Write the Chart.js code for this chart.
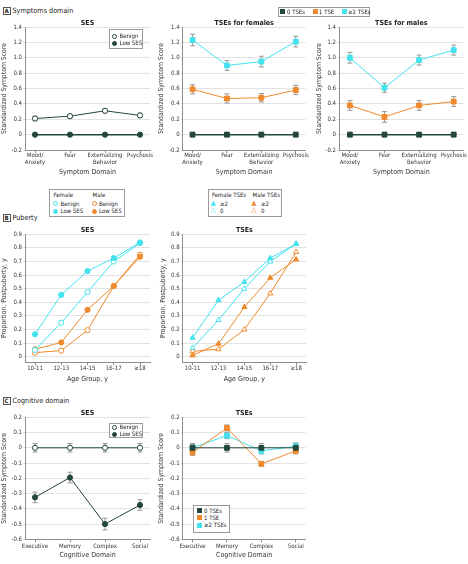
<!DOCTYPE html>
<html><head><meta charset="utf-8">
<script src="https://cdn.jsdelivr.net/npm/chart.js@4.4.1/dist/chart.umd.min.js"></script>
<style>
html,body{margin:0;padding:0;background:#fff;}
body{position:relative;width:468px;height:564px;overflow:hidden;font-family:"Liberation Sans Narrow","DejaVu Sans Condensed","Arial Narrow",sans-serif;color:#222;}
canvas{position:absolute;}
.t{position:absolute;white-space:nowrap;line-height:1;}
.box{position:absolute;border:1px solid #9a9a9a;box-sizing:border-box;background:#fff;}
.sym{position:absolute;box-sizing:border-box;}
.plab{position:absolute;width:8px;height:8px;border:1px solid #555;box-sizing:border-box;font-size:6px;font-weight:bold;text-align:center;line-height:6px;}
</style></head><body>
<script>
// ---------- DATA ----------
const symptomCats = [['Mood/','Anxiety'], 'Fear', ['Externalizing','Behavior'], 'Psychosis'];
const symptomYTicks = [-0.2, 0, 0.2, 0.4, 0.6, 0.8, 1.0, 1.2, 1.4];

const sesSymBenign    = [0.21, 0.24, 0.31, 0.25];
const sesSymBenignErr = [0.03, 0.025, 0.025, 0.03];
const sesSymLow       = [0, 0, 0, 0];
const sesSymLowErr    = [0.012, 0.012, 0.012, 0.012];

const femTse0    = [0, 0, 0, 0];
const femTse0Err = [0.03, 0.03, 0.03, 0.03];
const femTse1    = [0.59, 0.47, 0.48, 0.58];
const femTse1Err = [0.06, 0.06, 0.055, 0.06];
const femTse2    = [1.23, 0.90, 0.95, 1.21];
const femTse2Err = [0.075, 0.065, 0.07, 0.07];

const maleTse0    = [0, 0, 0, 0];
const maleTse0Err = [0.03, 0.03, 0.03, 0.03];
const maleTse1    = [0.38, 0.23, 0.38, 0.43];
const maleTse1Err = [0.065, 0.07, 0.065, 0.065];
const maleTse2    = [1.00, 0.61, 0.97, 1.10];
const maleTse2Err = [0.07, 0.06, 0.065, 0.065];

const ageCats = ['10-11', '12-13', '14-15', '16-17', '\u226518'];
const pubYTicks = [0, 0.1, 0.2, 0.3, 0.4, 0.5, 0.6, 0.7, 0.8, 0.9];
const pubSesFemBenign  = [0.05, 0.25, 0.475, 0.70, 0.835];
const pubSesFemLow     = [0.165, 0.455, 0.63, 0.725, 0.84];
const pubSesMaleBenign = [0.03, 0.045, 0.195, 0.52, 0.75];
const pubSesMaleLow    = [0.055, 0.105, 0.345, 0.52, 0.735];
const pubTseFem2  = [0.14, 0.415, 0.55, 0.725, 0.83];
const pubTseFem0  = [0.065, 0.27, 0.50, 0.70, 0.83];
const pubTseMale2 = [0.01, 0.095, 0.365, 0.58, 0.715];
const pubTseMale0 = [0.04, 0.055, 0.20, 0.465, 0.77];

const cogCats = ['Executive', 'Memory', 'Complex', 'Social'];
const cogYTicks = [-0.6, -0.5, -0.4, -0.3, -0.2, -0.1, 0, 0.1, 0.2];
const cogSesBenign    = [0, 0, 0, 0];
const cogSesBenignErr = [0.028, 0.028, 0.028, 0.028];
const cogSesLow       = [-0.325, -0.195, -0.50, -0.375];
const cogSesLowErr    = [0.035, 0.035, 0.038, 0.035];
const cogTse0    = [0, 0, 0, 0];
const cogTse0Err = [0.028, 0.028, 0.028, 0.028];
const cogTse1    = [-0.03, 0.13, -0.105, -0.02];
const cogTse1Err = [0.02, 0.02, 0.015, 0.02];
const cogTse2    = [0, 0.08, -0.02, 0.01];
const cogTse2Err = [0.022, 0.02, 0.02, 0.022];

// ---------- STYLE ----------
const FONT = '"Liberation Sans Narrow","DejaVu Sans Condensed","Arial Narrow",sans-serif';
const GREEN = '#23463f', ORANGE = '#ee8a2c', CYAN = '#43e2ee';
const TICK = 6, LEG = 6;
Chart.defaults.font.family = FONT;
Chart.defaults.color = '#333';
Chart.defaults.animation = false;

const errorBars = {
  id: 'errorBars',
  beforeDatasetsDraw(chart) {
    const ctx = chart.ctx, xs = chart.scales.x, ys = chart.scales.y;
    chart.data.datasets.forEach(ds => {
      if (!ds.errors) return;
      ds.data.forEach((p, i) => {
        const e = ds.errors[i];
        const x = xs.getPixelForValue(p.x);
        const y1 = ys.getPixelForValue(p.y + e), y2 = ys.getPixelForValue(p.y - e);
        ctx.save();
        ctx.strokeStyle = '#8f8f8f'; ctx.lineWidth = 0.9;
        ctx.beginPath();
        ctx.moveTo(x, y1); ctx.lineTo(x, y2);
        ctx.moveTo(x - 2.5, y1); ctx.lineTo(x + 2.5, y1);
        ctx.moveTo(x - 2.5, y2); ctx.lineTo(x + 2.5, y2);
        ctx.stroke(); ctx.restore();
      });
    });
  }
};

function pts(vals) { return vals.map((v, i) => ({x: i, y: v})); }
function series(label, vals, errs, color, style, filled, radius, lw) {
  return {
    label, data: pts(vals), errors: errs,
    borderColor: color, backgroundColor: color, borderWidth: lw || 1,
    pointStyle: style, pointRadius: radius, pointHoverRadius: radius,
    pointBorderWidth: 1, pointBorderColor: color,
    pointBackgroundColor: filled ? color : '#fff',
    tension: 0, fill: false
  };
}

function panel(g, cats, yTicks, ymin, ymax, datasets) {
  const cv = document.createElement('canvas');
  cv.width = g.W; cv.height = g.H;
  cv.style.left = g.L + 'px'; cv.style.top = g.T + 'px';
  cv.style.width = g.W + 'px'; cv.style.height = g.H + 'px';
  document.body.appendChild(cv);
  const n = cats.length;
  const sp = (g.catLast - g.catFirst) / (n - 1);
  const xmin = -(g.catFirst - g.plotL) / sp;
  const xmax = (n - 1) + (g.plotR - g.catLast) / sp;
  const titleLH = 7;
  const tPadTop = g.titleY - g.T - titleLH / 2;
  const tPadBot = (g.plotT - g.T) - tPadTop - titleLH;
  const tickLH = TICK * 1.2;
  const xTickPad = g.xTickY - g.plotB - 3 - tickLH / 2;
  const xTitleLH = 7 * 1.2;
  const xTitlePadBot = (g.T + g.H) - g.xTitleY - xTitleLH / 2;
  const yTitlePadTop = g.yTitleX - g.L - xTitleLH / 2;
  const fmt = v => (Math.abs(v) < 1e-9 ? '0' : v.toFixed(1));
  new Chart(cv, {
    type: 'line',
    data: {datasets},
    options: {
      responsive: false, devicePixelRatio: 1, animation: false,
      layout: {padding: {left: 0, top: 0, bottom: 0, right: (g.L + g.W) - g.plotR}},
      plugins: {
        legend: {display: false}, tooltip: {enabled: false},
        title: {display: true, text: g.title, fullSize: false, color: '#222',
                font: {size: 7, weight: 'bold', lineHeight: 1},
                padding: {top: tPadTop, bottom: tPadBot}}
      },
      scales: {
        x: {
          type: 'linear', min: xmin, max: xmax,
          afterBuildTicks: s => { s.ticks = cats.map((_, i) => ({value: i})); },
          afterFit: s => { s.height = (g.T + g.H) - g.plotB; },
          ticks: {autoSkip: false, maxRotation: 0, minRotation: 0, padding: xTickPad,
                  color: '#333', font: {size: TICK, lineHeight: 1.2},
                  callback: v => cats[Math.round(v)]},
          grid: {drawOnChartArea: false, drawTicks: true, tickLength: 3, color: '#8d8d8d'},
          border: {display: true, color: '#8d8d8d', width: 1},
          title: {display: true, text: g.xTitle, color: '#333', font: {size: 7, lineHeight: 1.2},
                  padding: {top: 0, bottom: xTitlePadBot}}
        },
        y: {
          type: 'linear', min: ymin, max: ymax,
          afterBuildTicks: s => { s.ticks = yTicks.map(v => ({value: v})); },
          afterFit: s => { s.width = g.plotL - g.L; },
          ticks: {padding: 1, color: '#333', font: {size: TICK}, callback: v => fmt(v)},
          grid: {color: '#dadada', lineWidth: 0.8, drawTicks: true, tickLength: 2},
          border: {display: true, color: '#8d8d8d', width: 1},
          title: {display: true, text: g.yTitle, color: '#333', font: {size: 6.8, lineHeight: 1.2},
                  padding: {top: yTitlePadTop, bottom: 0}}
        }
      }
    },
    plugins: [errorBars]
  });
}

// ---------- HTML helpers (labels & legends) ----------
function text(x, yc, s, size, bold) {
  const d = document.createElement('div'); d.className = 't';
  d.textContent = s; d.style.fontSize = size + 'px';
  if (bold) d.style.fontWeight = 'bold';
  d.style.left = x + 'px'; d.style.top = (yc - size / 2) + 'px';
  document.body.appendChild(d); return d;
}
function box(x0, y0, x1, y1) {
  const d = document.createElement('div'); d.className = 'box';
  d.style.left = x0 + 'px'; d.style.top = y0 + 'px';
  d.style.width = (x1 - x0) + 'px'; d.style.height = (y1 - y0) + 'px';
  document.body.appendChild(d);
}
function sym(kind, cx, cy, color, filled) {
  const d = document.createElement('div'); d.className = 'sym';
  if (kind === 'circle') {
    const s = 5;
    Object.assign(d.style, {left: (cx - s / 2) + 'px', top: (cy - s / 2) + 'px', width: s + 'px', height: s + 'px',
      borderRadius: '50%', border: '1px solid ' + color, background: filled ? color : '#fff'});
  } else if (kind === 'square') {
    const s = 5;
    Object.assign(d.style, {left: (cx - s / 2) + 'px', top: (cy - s / 2) + 'px', width: s + 'px', height: s + 'px',
      background: color});
  } else {
    d.textContent = filled ? '\u25B2' : '\u25B3';
    Object.assign(d.style, {left: (cx - 3.5) + 'px', top: (cy - 4) + 'px', fontSize: '7px', lineHeight: '7px', color: color});
  }
  document.body.appendChild(d);
}
function panelLabel(letter, x, y, title, tyc) {
  const d = document.createElement('div'); d.className = 'plab';
  d.textContent = letter; d.style.left = x + 'px'; d.style.top = y + 'px';
  document.body.appendChild(d);
  text(x + 10, tyc, title, 7.2);
}

// ---------- PANEL A ----------
panelLabel('A', 2.5, 7, 'Symptoms domain', 10.7);
const gA = {T: 14, H: 165, plotT: 27, plotB: 150, titleY: 23, xTickY: 155.7, xTitleY: 172.5,
            xTitle: 'Symptom Domain', yTitle: 'Standardized Symptom Score'};
panel(Object.assign({}, gA, {L: 0, W: 155, plotL: 25, plotR: 150, catFirst: 35, catLast: 140, yTitleX: 4.5, title: 'SES'}),
  symptomCats, symptomYTicks, -0.2, 1.4, [
    series('Low SES', sesSymLow, sesSymLowErr, GREEN, 'circle', true, 2.6, 1.5),
    series('Benign', sesSymBenign, sesSymBenignErr, GREEN, 'circle', false, 2.6, 1)
  ]);
panel(Object.assign({}, gA, {L: 155, W: 155, plotL: 182.7, plotR: 307.7, catFirst: 192.7, catLast: 297.7, yTitleX: 161.7, title: 'TSEs for females'}),
  symptomCats, symptomYTicks, -0.2, 1.4, [
    series('0 TSEs', femTse0, femTse0Err, GREEN, 'rect', true, 3.4, 1.5),
    series('1 TSE', femTse1, femTse1Err, ORANGE, 'rect', true, 3.4, 1),
    series('\u22652 TSEs', femTse2, femTse2Err, CYAN, 'rect', true, 3.4, 1)
  ]);
panel(Object.assign({}, gA, {L: 310, W: 158, plotL: 339, plotR: 465, catFirst: 350, catLast: 455, yTitleX: 319, title: 'TSEs for males'}),
  symptomCats, symptomYTicks, -0.2, 1.4, [
    series('0 TSEs', maleTse0, maleTse0Err, GREEN, 'rect', true, 3.4, 1.5),
    series('1 TSE', maleTse1, maleTse1Err, ORANGE, 'rect', true, 3.4, 1),
    series('\u22652 TSEs', maleTse2, maleTse2Err, CYAN, 'rect', true, 3.4, 1)
  ]);
// legends A
box(109, 29, 143, 49);
sym('circle', 114.5, 36, GREEN, false); text(119.5, 36, 'Benign', LEG);
sym('circle', 114.5, 43.3, GREEN, true); text(119.5, 43.3, 'Low SES', LEG);
box(277.7, 6.7, 370, 16.7);
sym('square', 282.7, 11.7, GREEN, true); text(287, 11.7, '0 TSEs', LEG);
sym('square', 315, 11.7, ORANGE, true); text(319, 11.7, '1 TSE', LEG);
sym('square', 344, 11.7, CYAN, true); text(348, 11.7, '\u22652 TSEs', LEG);

// ---------- PANEL B ----------
panelLabel('B', 2.5, 214, 'Puberty', 217.7);
const gB = {T: 222, H: 162, plotT: 234.3, plotB: 362.3, titleY: 230, xTickY: 368.7, xTitleY: 379,
            xTitle: 'Age Group, y', yTitle: 'Proportion, Postpuberty, y'};
panel(Object.assign({}, gB, {L: 0, W: 155, plotL: 25, plotR: 150, catFirst: 35, catLast: 140, yTitleX: 4.5, title: 'SES'}),
  ageCats, pubYTicks, -0.041, 0.9, [
    series('Female Low SES', pubSesFemLow, null, CYAN, 'circle', true, 2.6, 1),
    series('Female Benign', pubSesFemBenign, null, CYAN, 'circle', false, 2.6, 1),
    series('Male Low SES', pubSesMaleLow, null, ORANGE, 'circle', true, 2.6, 1),
    series('Male Benign', pubSesMaleBenign, null, ORANGE, 'circle', false, 2.6, 1)
  ]);
panel(Object.assign({}, gB, {L: 155, W: 155, plotL: 182.7, plotR: 307.7, catFirst: 192.7, catLast: 297.7, yTitleX: 163, title: 'TSEs'}),
  ageCats, pubYTicks, -0.041, 0.9, [
    series('Female \u22652', pubTseFem2, null, CYAN, 'triangle', true, 3, 1),
    series('Female 0', pubTseFem0, null, CYAN, 'triangle', false, 3, 1),
    series('Male \u22652', pubTseMale2, null, ORANGE, 'triangle', true, 3, 1),
    series('Male 0', pubTseMale0, null, ORANGE, 'triangle', false, 3, 1)
  ]);
box(49, 189, 125, 217);
text(53.5, 195, 'Female', LEG); text(92.5, 195, 'Male', LEG);
sym('circle', 55.7, 203.7, CYAN, false); text(60.5, 203.7, 'Benign', LEG);
sym('circle', 55.7, 211.3, CYAN, true); text(60.5, 211.3, 'Low SES', LEG);
sym('circle', 94.3, 203.7, ORANGE, false); text(99, 203.7, 'Benign', LEG);
sym('circle', 94.3, 211.3, ORANGE, true); text(99, 211.3, 'Low SES', LEG);
box(208, 189, 282, 217);
text(212, 195, 'Female TSEs', LEG); text(252.5, 195, 'Male TSEs', LEG);
sym('tri', 214.3, 203.7, CYAN, true); text(220, 203.7, '\u22652', LEG);
sym('tri', 214.3, 211.3, CYAN, false); text(220, 211.3, '0', LEG);
sym('tri', 255, 203.7, ORANGE, true); text(261, 203.7, '\u22652', LEG);
sym('tri', 255, 211.3, ORANGE, false); text(261, 211.3, '0', LEG);

// ---------- PANEL C ----------
panelLabel('C', 2.5, 397, 'Cognitive domain', 400.7);
const gC = {T: 405, H: 159, plotT: 417.3, plotB: 539.3, xTickY: 546, xTitleY: 555.5,
            xTitle: 'Cognitive Domain', yTitle: 'Standardized Symptom Score'};
panel(Object.assign({}, gC, {L: 0, W: 155, plotL: 25, plotR: 150, catFirst: 35, catLast: 140, yTitleX: 4.5, titleY: 412.7, title: 'SES'}),
  cogCats, cogYTicks, -0.6, 0.2, [
    series('Benign', cogSesBenign, cogSesBenignErr, GREEN, 'circle', false, 2.6, 1),
    series('Low SES', cogSesLow, cogSesLowErr, GREEN, 'circle', true, 2.6, 1)
  ]);
panel(Object.assign({}, gC, {L: 155, W: 155, plotL: 182.7, plotR: 307.7, catFirst: 192.7, catLast: 297.7, yTitleX: 161.7, titleY: 413, title: 'TSEs'}),
  cogCats, cogYTicks, -0.6, 0.2, [
    series('0 TSEs', cogTse0, cogTse0Err, GREEN, 'rect', true, 3.4, 1),
    series('1 TSE', cogTse1, cogTse1Err, ORANGE, 'rect', true, 3.4, 1),
    series('\u22652 TSEs', cogTse2, cogTse2Err, CYAN, 'rect', true, 3.4, 1)
  ]);
box(109, 422.7, 143, 438.3);
sym('circle', 114.5, 427.3, GREEN, false); text(119.5, 427.3, 'Benign', LEG);
sym('circle', 114.5, 434.3, GREEN, true); text(119.5, 434.3, 'Low SES', LEG);
box(192.7, 505, 230, 533.3);
sym('square', 199, 510.7, GREEN, true); text(204, 510.7, '0 TSEs', LEG);
sym('square', 199, 517.7, ORANGE, true); text(204, 517.7, '1 TSE', LEG);
sym('square', 199, 525.3, CYAN, true); text(204, 525.3, '\u22652 TSEs', LEG);
</script>
</body></html>
